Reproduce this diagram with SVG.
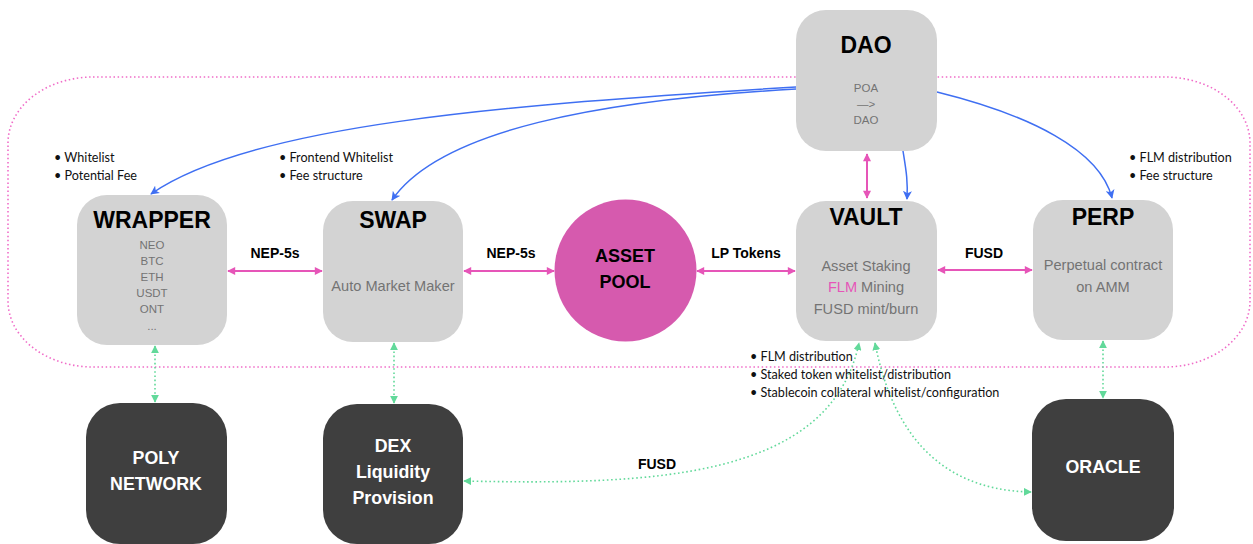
<svg xmlns="http://www.w3.org/2000/svg" width="1253" height="544" viewBox="0 0 1253 544">
<style>
.grey{fill:#d3d3d3}
.dark{fill:#3f3f3f}
.title{font-family:"Liberation Sans",Arial,sans-serif;font-weight:bold;font-size:23px;fill:#000;text-anchor:middle}
.sub{font-family:"Liberation Sans",Arial,sans-serif;font-size:14.6px;fill:#737373;text-anchor:middle}
.small{font-family:"Liberation Sans",Arial,sans-serif;font-size:11.5px;fill:#737373;text-anchor:middle}
.wt{font-family:"Liberation Sans",Arial,sans-serif;font-weight:bold;font-size:17.8px;fill:#fff;text-anchor:middle}
.lbl{font-family:"Liberation Sans",Arial,sans-serif;font-weight:bold;font-size:14px;fill:#000;text-anchor:middle}
.bul{font-family:Lato,"Noto Sans",sans-serif;font-size:12.6px;fill:#111}
.pink{stroke:#e655b8;stroke-width:2;fill:none}
.blue{stroke:#3f6ff2;stroke-width:1.5;fill:none}
.green{stroke:#62d99a;stroke-width:1.6;fill:none;stroke-dasharray:1.6 2.6}
</style>
<defs>
<marker id="pa" viewBox="0 0 10 10" refX="9" refY="5" markerWidth="9" markerHeight="8" markerUnits="userSpaceOnUse" orient="auto-start-reverse"><path d="M0,0 L10,5 L0,10 z" fill="#e655b8"/></marker>
<marker id="ba" viewBox="0 0 10 10" refX="9" refY="5" markerWidth="9" markerHeight="9" markerUnits="userSpaceOnUse" orient="auto"><path d="M0,0 L10,5 L0,10 L2.5,5 z" fill="#3f6ff2"/></marker>
<marker id="ga" viewBox="0 0 10 10" refX="9" refY="5" markerWidth="8" markerHeight="8" markerUnits="userSpaceOnUse" orient="auto-start-reverse"><path d="M0,0 L10,5 L0,10 z" fill="#62d99a"/></marker>
</defs>
<rect width="1253" height="544" fill="#fff"/>
<rect x="8" y="77" width="1242" height="290" rx="85" ry="66" fill="none" stroke="#f06cc8" stroke-width="1.6" stroke-dasharray="1.5 2.6"/>

<g id="connectors">
<path class="blue" d="M796,87 C500,105 250,125 151,194" marker-end="url(#ba)"/>
<path class="blue" d="M796,89 C600,100 440,130 392,200" marker-end="url(#ba)"/>
<path class="blue" d="M937,92 C1030,115 1100,150 1112,198" marker-end="url(#ba)"/>
<path class="blue" d="M903,151 C906,170 908,180 907,199" marker-end="url(#ba)"/>
<path class="pink" d="M867,154 L867,198" marker-start="url(#pa)" marker-end="url(#pa)"/>
<path class="pink" d="M228,271 L322,271" marker-start="url(#pa)" marker-end="url(#pa)"/>
<path class="pink" d="M464,271 L554,271" marker-start="url(#pa)" marker-end="url(#pa)"/>
<path class="pink" d="M697,271 L795,271" marker-start="url(#pa)" marker-end="url(#pa)"/>
<path class="pink" d="M938,270 L1032,270" marker-start="url(#pa)" marker-end="url(#pa)"/>
<path class="green" d="M155,346 L155,402" marker-start="url(#ga)" marker-end="url(#ga)"/>
<path class="green" d="M394,343 L394,403" marker-start="url(#ga)" marker-end="url(#ga)"/>
<path class="green" d="M1103,341 L1103,398" marker-start="url(#ga)" marker-end="url(#ga)"/>
<path class="green" d="M464,481 C650,485 830,480 859,343" marker-start="url(#ga)" marker-end="url(#ga)"/>
<path class="green" d="M875,343 C890,420 930,490 1031,492" marker-start="url(#ga)" marker-end="url(#ga)"/>
<text class="lbl" x="275" y="258">NEP-5s</text>
<text class="lbl" x="511" y="258">NEP-5s</text>
<text class="lbl" x="746" y="258">LP Tokens</text>
<text class="lbl" x="984" y="258">FUSD</text>
<text class="lbl" x="657" y="469">FUSD</text>
</g>

<g id="dao">
<rect class="grey" x="796" y="10" width="141" height="141" rx="30"/>
<text class="title" x="866" y="53">DAO</text>
<text class="small" x="866" y="92">POA</text>
<text class="small" x="866" y="108">—&gt;</text>
<text class="small" x="866" y="124">DAO</text>
</g>

<g id="wrapper">
<rect class="grey" x="77" y="195" width="150" height="150" rx="30"/>
<text class="title" x="152" y="228">WRAPPER</text>
<text class="small" x="152" y="249">NEO</text>
<text class="small" x="152" y="265">BTC</text>
<text class="small" x="152" y="281">ETH</text>
<text class="small" x="152" y="297">USDT</text>
<text class="small" x="152" y="313">ONT</text>
<text class="small" x="152" y="330">...</text>
</g>

<g id="swap">
<rect class="grey" x="323" y="201" width="140" height="141" rx="30"/>
<text class="title" x="393" y="228">SWAP</text>
<text class="sub" x="393" y="291">Auto Market Maker</text>
</g>

<g id="asset-pool">
<circle cx="625.5" cy="270.5" r="71" fill="#d65aae"/>
<text class="lbl" x="625" y="262" style="font-size:18px">ASSET</text>
<text class="lbl" x="625" y="288" style="font-size:18px">POOL</text>
</g>

<g id="vault">
<rect class="grey" x="796" y="201" width="141" height="140" rx="30"/>
<text class="title" x="866" y="225">VAULT</text>
<text class="sub" x="866" y="271">Asset Staking</text>
<text class="sub" x="866" y="292"><tspan fill="#e655b8">FLM</tspan> Mining</text>
<text class="sub" x="866" y="314">FUSD mint/burn</text>
</g>

<g id="perp">
<rect class="grey" x="1033" y="200" width="140" height="140" rx="30"/>
<text class="title" x="1103" y="225">PERP</text>
<text class="sub" x="1103" y="270">Perpetual contract</text>
<text class="sub" x="1103" y="292">on AMM</text>
</g>

<g id="poly-network">
<rect class="dark" x="86" y="403" width="141" height="141" rx="34"/>
<text class="wt" x="156" y="464">POLY</text>
<text class="wt" x="156" y="490">NETWORK</text>
</g>

<g id="dex">
<rect class="dark" x="323" y="404" width="140" height="140" rx="34"/>
<text class="wt" x="393" y="452">DEX</text>
<text class="wt" x="393" y="478">Liquidity</text>
<text class="wt" x="393" y="504">Provision</text>
</g>

<g id="oracle">
<rect class="dark" x="1032" y="399" width="142" height="142" rx="34"/>
<text class="wt" x="1103" y="473">ORACLE</text>
</g>

<g id="notes">
<text class="bul" x="54" y="162">• Whitelist</text>
<text class="bul" x="54" y="180">• Potential Fee</text>
<text class="bul" x="279" y="162">• Frontend Whitelist</text>
<text class="bul" x="279" y="180">• Fee structure</text>
<text class="bul" x="1129" y="162">• FLM distribution</text>
<text class="bul" x="1129" y="180">• Fee structure</text>
<text class="bul" x="750" y="361">• FLM distribution</text>
<text class="bul" x="750" y="379">• Staked token whitelist/distribution</text>
<text class="bul" x="750" y="397">• Stablecoin collateral whitelist/configuration</text>
</g>
</svg>
